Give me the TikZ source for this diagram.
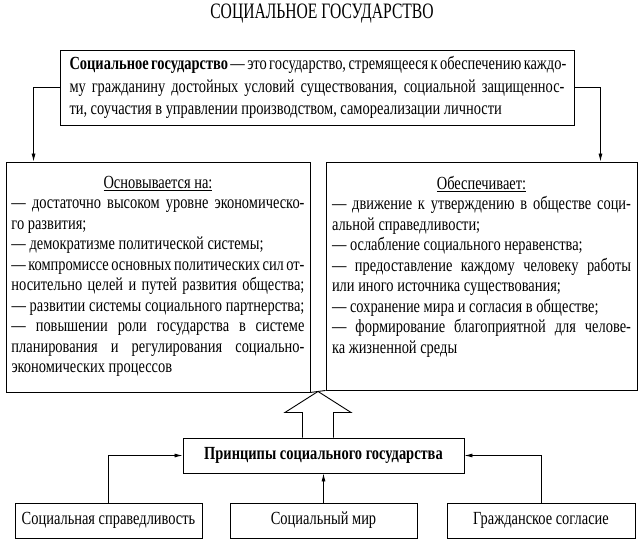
\documentclass[tikz,border=0pt]{standalone}
\usepackage{fontspec}
\setmainfont{Liberation Serif}[FakeStretch=0.78]
\newfontfamily\titlefont{Liberation Serif}[FakeStretch=0.71]
\usepackage{tikz}
\usetikzlibrary{arrows.meta}
\usetikzlibrary{calc}
\newcommand{\fullline}[1]{\makebox[\linewidth][s]{#1}}

\begin{document}
\begin{tikzpicture}[x=1pt,y=-1pt]
\tikzset{>={Latex[width=4pt,length=8pt]}}
\tikzstyle{box}=[draw,line width=0.9pt,inner sep=0pt,font=\fontsize{18.5}{20.5}\selectfont]
\tikzstyle{link}=[->,line width=0.8pt]
\useasboundingbox (0,0) rectangle (642,544);

\node[font=\titlefont\fontsize{22}{24}\selectfont] (title) at (322,13.5) {СОЦИАЛЬНОЕ ГОСУДАРСТВО};

\node[box,minimum width=514pt,minimum height=75pt,font=\fontsize{18.5}{22.5}\selectfont] (def) at (317,87.5) {\parbox{495pt}{%
\fullline{\textbf{Социальное государство} — это государство, стремящееся к обеспечению каждо-}\\
\fullline{му гражданину достойных условий существования, социальной защищеннос-}\\
ти, соучастия в управлении производством, самореализации личности}};

\node[box,minimum width=304pt,minimum height=230pt] (basis) at (158,277) {\parbox[c][220pt][t]{293pt}{%
\vspace*{9pt}\centerline{\underline{Основывается на:}}
\fullline{— достаточно высоком уровне экономическо-}\\
го развития;\\
— демократизме политической системы;\\
\fullline{— компромиссе основных политических сил от-}\\
\fullline{носительно целей и путей развития общества;}\\
\fullline{— развитии системы социального партнерства;}\\
\fullline{— повышении роли государства в системе}\\
\fullline{планирования и регулирования социально-}\\
экономических процессов}};

\node[box,minimum width=311pt,minimum height=228pt] (provide) at (481.5,276) {\parbox[c][218pt][t]{299pt}{%
\vspace*{9pt}\centerline{\underline{Обеспечивает:}}
\fullline{— движение к утверждению в обществе соци-}\\
альной справедливости;\\
— ослабление социального неравенства;\\
\fullline{— предоставление каждому человеку работы}\\
или иного источника существования;\\
— сохранение мира и согласия в обществе;\\
\fullline{— формирование благоприятной для челове-}\\
ка жизненной среды}};

\node[box,minimum width=281pt,minimum height=35pt,font=\bfseries\fontsize{18.5}{20}\selectfont] (principles) at (323.5,455.5) {Принципы социального государства};

\node[box,minimum width=187pt,minimum height=35pt] (justice) at (108.5,520.5) {Социальная справедливость};
\node[box,minimum width=187pt,minimum height=35pt] (peace) at (323.5,520.5) {Социальный мир};
\node[box,minimum width=188pt,minimum height=35pt] (accord) at (541,520.5) {Гражданское согласие};

\draw[link] (def.west) -| ([xshift=28pt]basis.north west);
\draw[link] (def.east) -| ([xshift=-37pt]provide.north east);

% hollow arrow up to the two boxes
\coordinate (tip) at ($(basis.south east)!0.5!(provide.south west)$);
\draw[line width=0.9pt] (basis.south east) -- (provide.south west);
\draw[line width=0.9pt] (tip) -- ++(33,21) -- ++(-17.5,0) coordinate (sr) -- (sr |- principles.north);
\draw[line width=0.9pt] (tip) -- ++(-33,21) -- ++(17.5,0) coordinate (sl) -- (sl |- principles.north);

\draw[link] (justice.north) |- (principles.west);
\draw[link] (peace.north) -- (principles.south);
\draw[link] (accord.north) |- (principles.east);
\end{tikzpicture}
\end{document}
